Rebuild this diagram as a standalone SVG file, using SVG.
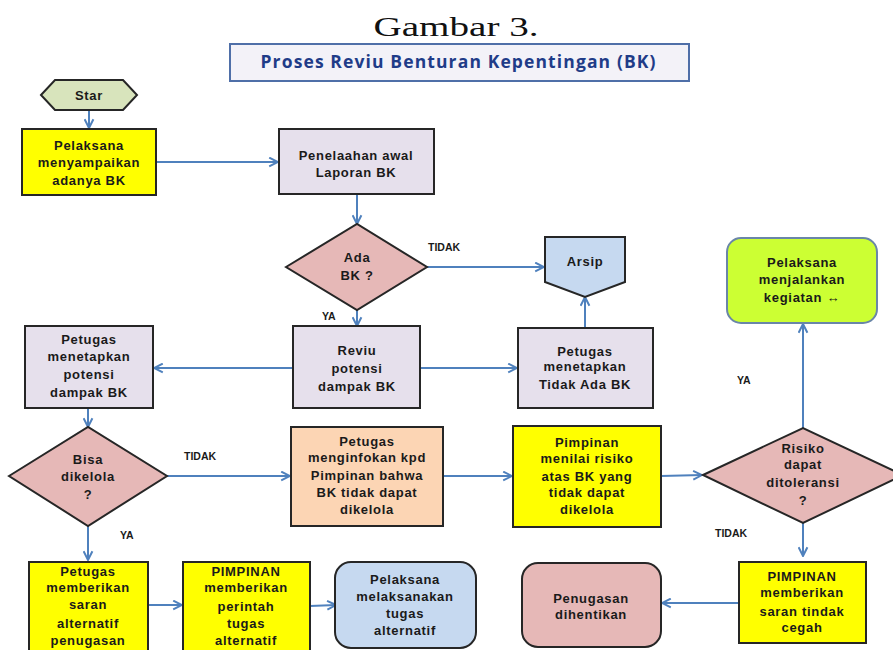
<svg xmlns="http://www.w3.org/2000/svg" width="893" height="650" viewBox="0 0 893 650">
<style>
.box{stroke:#262626;stroke-width:2}
.t{font-family:"Liberation Sans",Arial,sans-serif;font-weight:bold;font-size:13px;letter-spacing:0.7px;fill:#1a1a1a;text-anchor:middle}
.lbl{font-family:"Liberation Sans",Arial,sans-serif;font-weight:bold;font-size:10.5px;fill:#1a1a1a}
.c{fill:none;stroke:#4f81bd;stroke-width:2;marker-end:url(#arr)}
.yel{fill:#ffff00}.lav{fill:#e6e0ec}.pink{fill:#e6b8b7}.lblue{fill:#c6d9f0}.peach{fill:#fcd5b4}
</style>
<defs>
<marker id="arr" viewBox="0 0 10 10" refX="9" refY="5" markerWidth="11" markerHeight="11" markerUnits="userSpaceOnUse" orient="auto">
<path d="M1,1 L9,5 L1,9" fill="none" stroke="#4f81bd" stroke-width="1.8"/>
</marker>
</defs>
<rect width="893" height="650" fill="#ffffff"/>
<g id="heading">
<text x="456" y="36" font-family="'Liberation Serif','DejaVu Serif',serif" font-size="27" fill="#111" text-anchor="middle" textLength="165" lengthAdjust="spacingAndGlyphs">Gambar 3.</text>
<rect x="230" y="44" width="459" height="37" fill="#f3f2f8" stroke="#4f6fa8" stroke-width="2"/>
<text x="458" y="68" font-family="'Open Sans','Liberation Sans',sans-serif" font-weight="bold" font-size="17.5" fill="#1f3c88" text-anchor="middle" textLength="395">Proses Reviu Benturan Kepentingan (BK)</text>
</g>
<g id="connectors">
<line class="c" x1="89" y1="110" x2="89" y2="128"/>
<line class="c" x1="156" y1="162" x2="278" y2="162"/>
<line class="c" x1="357" y1="194" x2="357" y2="224"/>
<line class="c" x1="427" y1="267" x2="544" y2="267"/>
<line class="c" x1="357" y1="310" x2="357" y2="326"/>
<line class="c" x1="293" y1="368" x2="154" y2="368"/>
<line class="c" x1="420" y1="368" x2="517" y2="368"/>
<line class="c" x1="585" y1="328" x2="585" y2="297"/>
<line class="c" x1="88" y1="408" x2="88" y2="427"/>
<line class="c" x1="167" y1="476" x2="290" y2="476"/>
<line class="c" x1="443" y1="476" x2="512" y2="476"/>
<line class="c" x1="661" y1="476" x2="702" y2="475"/>
<line class="c" x1="803" y1="428" x2="803" y2="324"/>
<line class="c" x1="803" y1="523" x2="803" y2="556"/>
<line class="c" x1="739" y1="603" x2="662" y2="603"/>
<line class="c" x1="88" y1="526" x2="88" y2="560"/>
<line class="c" x1="148" y1="605" x2="182" y2="605"/>
<line class="c" x1="310" y1="606" x2="336" y2="605"/>
<text class="lbl" x="428" y="251">TIDAK</text>
<text class="lbl" x="322" y="320">YA</text>
<text class="lbl" x="184" y="460">TIDAK</text>
<text class="lbl" x="120" y="539">YA</text>
<text class="lbl" x="737" y="384">YA</text>
<text class="lbl" x="715" y="537">TIDAK</text>
</g>
<g id="start">
<polygon points="41,95 55,80 123,80 137,95 123,110 55,110" fill="#d8e4bc" stroke="#262626" stroke-width="2"/>
<text class="t" x="89" y="100">Star</text>
</g>
<g id="n-pelaksana-lapor">
<rect class="box yel" x="22" y="129" width="134" height="66"/>
<text class="t" x="89" y="150">Pelaksana</text>
<text class="t" x="89" y="167">menyampaikan</text>
<text class="t" x="89" y="185">adanya  BK</text>
</g>
<g id="n-penelaahan">
<rect class="box lav" x="279" y="129" width="155" height="65"/>
<text class="t" x="356" y="160">Penelaahan  awal</text>
<text class="t" x="356" y="177">Laporan BK</text>
</g>
<g id="d-ada-bk">
<polygon class="box pink" points="286,267 357,224 427,267 357,310"/>
<text class="t" x="357" y="262">Ada</text>
<text class="t" x="357" y="280">BK ?</text>
</g>
<g id="n-arsip">
<polygon class="box lblue" points="545,237 625,237 625,282 585,297 545,282"/>
<text class="t" x="585" y="266">Arsip</text>
</g>
<g id="n-reviu">
<rect class="box lav" x="293" y="326" width="127" height="82"/>
<text class="t" x="357" y="355">Reviu</text>
<text class="t" x="357" y="373">potensi</text>
<text class="t" x="357" y="391">dampak BK</text>
</g>
<g id="n-potensi">
<rect class="box lav" x="25" y="326" width="128" height="82"/>
<text class="t" x="89" y="344">Petugas</text>
<text class="t" x="89" y="361">menetapkan</text>
<text class="t" x="89" y="379">potensi</text>
<text class="t" x="89" y="397">dampak BK</text>
</g>
<g id="n-tidak-ada">
<rect class="box lav" x="518" y="328" width="135" height="80"/>
<text class="t" x="585" y="356">Petugas</text>
<text class="t" x="585" y="371">menetapkan</text>
<text class="t" x="585" y="389">Tidak Ada BK</text>
</g>
<g id="n-menjalankan">
<rect x="727" y="238" width="150" height="85" rx="14" fill="#ccff33" stroke="#6a86a8" stroke-width="2"/>
<text class="t" x="802" y="267">Pelaksana</text>
<text class="t" x="802" y="284">menjalankan</text>
<text class="t" x="802" y="302">kegiatan  ↔</text>
</g>
<g id="d-bisa">
<polygon class="box pink" points="9,476 88,427 167,476 88,526"/>
<text class="t" x="88" y="464">Bisa</text>
<text class="t" x="88" y="481">dikelola</text>
<text class="t" x="88" y="499">?</text>
</g>
<g id="n-menginfokan">
<rect class="box peach" x="291" y="427" width="152" height="99"/>
<text class="t" x="367" y="446">Petugas</text>
<text class="t" x="367" y="462">menginfokan kpd</text>
<text class="t" x="367" y="480">Pimpinan  bahwa</text>
<text class="t" x="367" y="497">BK tidak dapat</text>
<text class="t" x="367" y="514">dikelola</text>
</g>
<g id="n-menilai">
<rect class="box yel" x="513" y="426" width="148" height="101"/>
<text class="t" x="587" y="447">Pimpinan</text>
<text class="t" x="587" y="463">menilai  risiko</text>
<text class="t" x="587" y="481">atas BK yang</text>
<text class="t" x="587" y="497">tidak dapat</text>
<text class="t" x="587" y="514">dikelola</text>
</g>
<g id="d-risiko">
<polygon class="box pink" points="703,475 803,428 903,475 803,523"/>
<text class="t" x="803" y="453">Risiko</text>
<text class="t" x="803" y="469">dapat</text>
<text class="t" x="803" y="487">ditoleransi</text>
<text class="t" x="803" y="505">?</text>
</g>
<g id="n-saran-cegah">
<rect class="box yel" x="739" y="562" width="127" height="81"/>
<text class="t" x="802" y="581">PIMPINAN</text>
<text class="t" x="802" y="597">memberikan</text>
<text class="t" x="802" y="616">saran  tindak</text>
<text class="t" x="802" y="632">cegah</text>
</g>
<g id="n-dihentikan">
<rect class="box pink" x="522" y="563" width="139" height="84" rx="16"/>
<text class="t" x="591" y="603">Penugasan</text>
<text class="t" x="591" y="619">dihentikan</text>
</g>
<g id="n-saran-alternatif">
<rect class="box yel" x="29" y="562" width="119" height="100"/>
<text class="t" x="88" y="576">Petugas</text>
<text class="t" x="88" y="592">memberikan</text>
<text class="t" x="88" y="609">saran</text>
<text class="t" x="88" y="628">alternatif</text>
<text class="t" x="88" y="645">penugasan</text>
</g>
<g id="n-perintah">
<rect class="box yel" x="183" y="562" width="127" height="100"/>
<text class="t" x="246" y="576">PIMPINAN</text>
<text class="t" x="246" y="592">memberikan</text>
<text class="t" x="246" y="611">perintah</text>
<text class="t" x="246" y="628">tugas</text>
<text class="t" x="246" y="645">alternatif</text>
</g>
<g id="n-melaksanakan">
<rect class="box lblue" x="335" y="562" width="141" height="86" rx="16"/>
<text class="t" x="405" y="584">Pelaksana</text>
<text class="t" x="405" y="601">melaksanakan</text>
<text class="t" x="405" y="618">tugas</text>
<text class="t" x="405" y="635">alternatif</text>
</g>
</svg>
